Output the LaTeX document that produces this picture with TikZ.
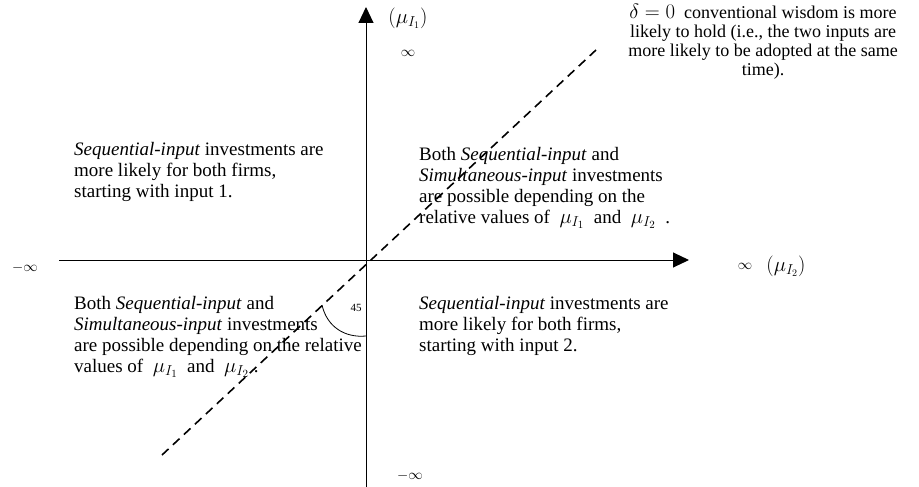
\documentclass[tikz,border=0pt]{standalone}
\usepackage{amsmath}
\usepackage{fontspec}
\setmainfont{Liberation Serif}
\usetikzlibrary{arrows.meta}
\newcommand{\bigmu}[1]{{\fontsize{22}{21}\selectfont$\mu_{I_{#1}}$}}
\tikzset{
  txt/.style={align=left, inner sep=0pt, font=\fontsize{19}{21}\selectfont},
  lbl/.style={inner sep=0pt, font=\fontsize{15}{18}\selectfont},
  mulbl/.style={inner sep=0pt, font=\fontsize{20}{22}\selectfont},
  axis/.style={line width=1pt, -{Triangle[length=16pt, width=15pt]}},
  guide/.style={line width=1.6pt, dash pattern=on 9pt off 6pt},
}

\begin{document}
\begin{tikzpicture}[x=1pt, y=-1pt]
  \useasboundingbox (0,0) rectangle (919,487);
  % axes
  \coordinate (o) at (366,260);
  \coordinate (xl) at (59,260);
  \coordinate (xr) at (689,260);
  \coordinate (yb) at (366,487);
  \coordinate (yt) at (366,7);
  \draw[axis] (xl) -- (xr);
  \draw[axis] (yb) -- (yt);
  % 45 degree line
  \coordinate (dl) at (162,455);
  \coordinate (du) at (596,50);
  \draw[guide] (dl) -- (du);
  \coordinate (a1) at (322,305);
  \coordinate (a2) at (366,336);
  \draw[line width=0.8pt] (a1) .. controls (327,327) and (345,338) .. (a2);
  \node[inner sep=0pt, font=\fontsize{11}{12}\selectfont] (ang) at (356,308) {45};
  % axis labels
  \node[mulbl] (mu1) at (408,18) {$(\mu_{I_1})$};
  \node[lbl] (inftop) at (408,53) {$\infty$};
  \node[lbl] (infleft) at (25,268) {$-\infty$};
  \node[lbl] (infbot) at (410,476) {$-\infty$};
  \node[lbl] (infright) at (745,266) {$\infty$};
  \node[mulbl] (mu2) at (786,266) {$(\mu_{I_2})$};
  % quadrants
  \node[txt, anchor=north west] (qtl) at (74,142) {\textit{Sequential-input} investments are\\more likely for both firms,\\starting with input 1.};
  \node[txt, anchor=north west] (qtr) at (419,147) {Both \textit{Sequential-input} and\\\textit{Simultaneous-input} investments\\are possible depending on the\\relative values of \ \bigmu{1} \ and \ \bigmu{2} \ .};
  \node[txt, anchor=north west] (qbl) at (74,296) {Both \textit{Sequential-input} and\\\textit{Simultaneous-input} investments\\are possible depending on the relative\\values of \ \bigmu{1} \ and \ \bigmu{2} .};
  \node[txt, anchor=north west] (qbr) at (419,296) {\textit{Sequential-input} investments are\\more likely for both firms,\\starting with input 2.};
  % note
  \node[inner sep=0pt, align=center, anchor=north, font=\fontsize{18}{19}\selectfont] (note) at (763,4) {{\fontsize{21}{19}\selectfont$\delta=0$} \ conventional wisdom is more\\likely to hold (i.e., the two inputs are\\more likely to be adopted at the same\\time).};
\end{tikzpicture}
\end{document}
